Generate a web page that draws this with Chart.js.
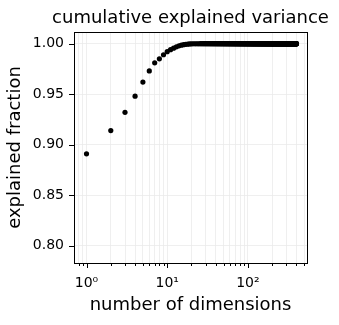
<!DOCTYPE html>
<html>
<head>
<meta charset="utf-8">
<script src="https://cdn.jsdelivr.net/npm/chart.js@4"></script>
<style>
  html, body { margin: 0; padding: 0; background: #ffffff; }
  #wrap { width: 339px; height: 325px; }
</style>
</head>
<body>
<div id="wrap"><canvas id="chart" width="339" height="325"></canvas></div>
<script>
// explained fraction for the first dimensions
var headValues = [
    0.891, 0.914, 0.932, 0.948, 0.962, 0.973, 0.981, 0.985, 0.989, 0.992,
    0.994, 0.9955, 0.9968, 0.9978, 0.9985, 0.999, 0.9993, 0.9995, 0.9997, 0.9998,
    0.9999, 0.9999, 0.9999, 0.9999, 0.9999
];
// the rest of the dimensions sit on 1.00
var tailValues = [
    1,1,1,1,1,1,1,1,1,1,1,1,1,1,1,1,1,1,1,1,1,1,1,1,1,
    1,1,1,1,1,1,1,1,1,1,1,1,1,1,1,1,1,1,1,1,1,1,1,1,1,
    1,1,1,1,1,1,1,1,1,1,1,1,1,1,1,1,1,1,1,1,1,1,1,1,1,
    1,1,1,1,1,1,1,1,1,1,1,1,1,1,1,1,1,1,1,1,1,1,1,1,1,
    1,1,1,1,1,1,1,1,1,1,1,1,1,1,1,1,1,1,1,1,1,1,1,1,1,
    1,1,1,1,1,1,1,1,1,1,1,1,1,1,1,1,1,1,1,1,1,1,1,1,1,
    1,1,1,1,1,1,1,1,1,1,1,1,1,1,1,1,1,1,1,1,1,1,1,1,1,
    1,1,1,1,1,1,1,1,1,1,1,1,1,1,1,1,1,1,1,1,1,1,1,1,1,
    1,1,1,1,1,1,1,1,1,1,1,1,1,1,1,1,1,1,1,1,1,1,1,1,1,
    1,1,1,1,1,1,1,1,1,1,1,1,1,1,1,1,1,1,1,1,1,1,1,1,1,
    1,1,1,1,1,1,1,1,1,1,1,1,1,1,1,1,1,1,1,1,1,1,1,1,1,
    1,1,1,1,1,1,1,1,1,1,1,1,1,1,1,1,1,1,1,1,1,1,1,1,1,
    1,1,1,1,1,1,1,1,1,1,1,1,1,1,1,1,1,1,1,1,1,1,1,1,1,
    1,1,1,1,1,1,1,1,1,1,1,1,1,1,1,1,1,1,1,1,1,1,1,1,1,
    1,1,1,1,1,1,1,1,1,1,1,1,1,1,1,1,1,1,1,1,1,1,1,1,1
];
var explained = headValues.concat(tailValues);

var chartTitle = 'cumulative explained variance';
var xMajorTicks = [1, 10, 100];
var xMinorTicks = [0.8, 0.9, 2, 3, 4, 5, 6, 7, 8, 9, 20, 30, 40, 50, 60, 70, 80, 90, 200, 300, 400, 500];
var xTickLabels = ['10\u2070', '10\u00b9', '10\u00b2'];
var yTicks = [0.80, 0.85, 0.90, 0.95, 1.00];

var points = [];
for (var i = 0; i < explained.length; i++) {
    points.push({x: i + 1, y: explained[i]});
}

var FONT = "'DejaVu Sans', sans-serif";

// draws the box round the axes, the outward tick marks and the title over the plot
var frameTicks = {
    id: 'frameTicks',
    afterDraw: function(chart) {
        var ctx = chart.ctx;
        var a = chart.chartArea;
        var xs = chart.scales.x;
        var ys = chart.scales.y;
        ctx.save();
        ctx.strokeStyle = '#000000';
        ctx.lineWidth = 1;
        ctx.beginPath();
        xMajorTicks.forEach(function(v) {
            var px = Math.round(xs.getPixelForValue(v)) + 0.5;
            ctx.moveTo(px, a.bottom); ctx.lineTo(px, a.bottom + 5);
        });
        xMinorTicks.forEach(function(v) {
            var px = Math.round(xs.getPixelForValue(v)) + 0.5;
            ctx.moveTo(px, a.bottom); ctx.lineTo(px, a.bottom + 3);
        });
        yTicks.forEach(function(v) {
            var py = Math.round(ys.getPixelForValue(v)) + 0.5;
            ctx.moveTo(a.left, py); ctx.lineTo(a.left - 5, py);
        });
        ctx.stroke();
        ctx.strokeRect(Math.round(a.left) + 0.5, Math.round(a.top) + 0.5,
            Math.round(a.right - a.left), Math.round(a.bottom - a.top));
        // title centred on the plot area, as matplotlib does
        ctx.fillStyle = '#000000';
        ctx.font = '18px ' + FONT;
        ctx.textAlign = 'center';
        ctx.textBaseline = 'middle';
        ctx.fillText(chartTitle, (a.left + a.right) / 2, a.top - 14);
        ctx.restore();
    }
};

new Chart(document.getElementById('chart').getContext('2d'), {
    type: 'scatter',
    data: {
        datasets: [{
            data: points,
            backgroundColor: '#000000',
            borderWidth: 0,
            pointRadius: 2.6,
            pointHoverRadius: 2.6
        }]
    },
    options: {
        responsive: false,
        animation: false,
        events: [],
        layout: { padding: { left: 0, right: 32, top: 32, bottom: 0 } },
        plugins: {
            legend: { display: false },
            tooltip: { enabled: false },
            title: { display: false }
        },
        scales: {
            x: {
                type: 'logarithmic',
                min: 0.741,
                max: 540,
                afterFit: function(scale) { scale.height = 62; },
                afterBuildTicks: function(scale) {
                    var all = xMinorTicks.concat(xMajorTicks).sort(function(a, b) { return a - b; });
                    scale.ticks = all.map(function(v) { return {value: v}; });
                },
                ticks: {
                    autoSkip: false,
                    maxRotation: 0,
                    color: '#000000',
                    padding: 12,
                    font: { family: FONT, size: 14 },
                    callback: function(value) {
                        var k = xMajorTicks.indexOf(value);
                        return k >= 0 ? xTickLabels[k] : '';
                    }
                },
                grid: { color: '#ebebeb', lineWidth: 0.8, drawTicks: false },
                border: { display: false },
                title: {
                    display: true,
                    text: 'number of dimensions',
                    color: '#000000',
                    font: { family: FONT, size: 18 },
                    padding: { top: 0, bottom: 9 }
                }
            },
            y: {
                min: 0.783,
                max: 1.0115,
                afterFit: function(scale) { scale.width = 74; },
                afterBuildTicks: function(scale) {
                    scale.ticks = yTicks.map(function(v) { return {value: v}; });
                },
                ticks: {
                    color: '#000000',
                    padding: 10,
                    font: { family: FONT, size: 14 },
                    callback: function(value) { return value.toFixed(2); }
                },
                grid: { color: '#ebebeb', lineWidth: 0.8, drawTicks: false },
                border: { display: false },
                title: {
                    display: true,
                    text: 'explained fraction',
                    color: '#000000',
                    font: { family: FONT, size: 18 },
                    padding: { top: 5, bottom: 0 }
                }
            }
        }
    },
    plugins: [frameTicks]
});
</script>
</body>
</html>
